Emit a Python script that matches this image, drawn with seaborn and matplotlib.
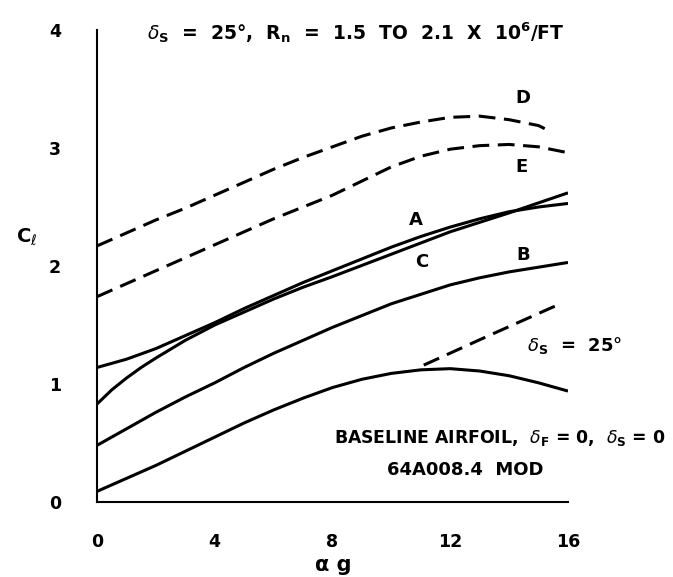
import matplotlib
matplotlib.use("Agg")
import matplotlib.pyplot as plt
import seaborn as sns
import pandas as pd

# ---- data ----
alpha_A = [0, 1, 2, 3, 4, 5, 6, 7, 8, 9, 10, 11, 12, 13, 14, 15, 16]
cl_A = [1.14, 1.21, 1.30, 1.41, 1.52, 1.64, 1.75, 1.86, 1.96, 2.06, 2.16, 2.25, 2.33, 2.40, 2.46, 2.50, 2.53]

alpha_C = [0, 0.5, 1, 1.5, 2, 3, 4, 5, 6, 7, 8, 10, 12, 14, 16]
cl_C = [0.83, 0.95, 1.05, 1.14, 1.22, 1.37, 1.50, 1.61, 1.72, 1.82, 1.91, 2.10, 2.29, 2.45, 2.62]

alpha_B = [0, 1, 2, 3, 4, 5, 6, 7, 8, 9, 10, 11, 12, 13, 14, 15, 16]
cl_B = [0.48, 0.62, 0.76, 0.89, 1.01, 1.14, 1.26, 1.37, 1.48, 1.58, 1.68, 1.76, 1.84, 1.90, 1.95, 1.99, 2.03]

alpha_base = [0, 1, 2, 3, 4, 5, 6, 7, 8, 9, 10, 11, 12, 13, 14, 15, 16]
cl_base = [0.09, 0.20, 0.31, 0.43, 0.55, 0.67, 0.78, 0.88, 0.97, 1.04, 1.09, 1.12, 1.13, 1.11, 1.07, 1.01, 0.94]

alpha_D = [0, 1, 2, 3, 4, 5, 6, 7, 8, 9, 10, 11, 12, 13, 14, 15, 15.4]
cl_D = [2.17, 2.28, 2.39, 2.49, 2.60, 2.71, 2.82, 2.92, 3.01, 3.10, 3.17, 3.22, 3.26, 3.27, 3.24, 3.19, 3.14]

alpha_E = [0, 1, 2, 3, 4, 5, 6, 7, 8, 9, 10, 11, 12, 13, 14, 15, 16]
cl_E = [1.74, 1.85, 1.96, 2.07, 2.18, 2.29, 2.40, 2.50, 2.60, 2.72, 2.84, 2.93, 2.99, 3.02, 3.03, 3.01, 2.96]

alpha_s25 = [11.1, 13.4, 15.65]
cl_s25 = [1.16, 1.42, 1.67]

x_ticks = [0, 4, 8, 12, 16]
y_ticks = [0, 1, 2, 3, 4]

sns.set_theme(style="white")
plt.rcParams["font.family"] = ["DejaVu Sans"]
plt.rcParams["text.color"] = "black"
plt.rcParams["axes.labelcolor"] = "black"
plt.rcParams["xtick.color"] = "black"
plt.rcParams["ytick.color"] = "black"
plt.rcParams["mathtext.fontset"] = "custom"
plt.rcParams["mathtext.rm"] = "DejaVu Sans:bold"
plt.rcParams["mathtext.bf"] = "DejaVu Sans:bold"
plt.rcParams["mathtext.it"] = "DejaVu Sans:italic"

fig = plt.figure(figsize=(6.73, 5.77), dpi=100)
ax = fig.add_axes([97 / 673, 75 / 577, 471 / 673, 472 / 577])

solid_lw = 2.2
dash_pat = (5.5, 2.8)

curves = [
    (alpha_A, cl_A, "-"),
    (alpha_C, cl_C, "-"),
    (alpha_B, cl_B, "-"),
    (alpha_base, cl_base, "-"),
    (alpha_D, cl_D, "--"),
    (alpha_E, cl_E, "--"),
    (alpha_s25, cl_s25, "--"),
]
for xs, ys, ls in curves:
    df = pd.DataFrame({"alpha": xs, "cl": ys})
    sns.lineplot(data=df, x="alpha", y="cl", ax=ax, color="black",
                 linewidth=solid_lw, sort=False, estimator=None)
    l = ax.lines[-1]
    l.set_solid_capstyle("butt")
    l.set_solid_joinstyle("round")
    if ls == "--":
        l.set_dashes(dash_pat)

ax.set_xlim(0, 16)
ax.set_ylim(0, 4)
ax.set_xticks(x_ticks)
ax.set_yticks(y_ticks)
ax.set_xticklabels([str(t) for t in x_ticks], fontsize=12.5, fontweight="bold", color="black")
ax.set_yticklabels([str(t) for t in y_ticks], fontsize=12.5, fontweight="bold", color="black")
ax.tick_params(axis="x", direction="in", length=4, width=1.2, pad=22, colors="black")
ax.tick_params(axis="y", direction="in", length=4, width=1.2, pad=26, colors="black")
for s in ["top", "right"]:
    ax.spines[s].set_visible(False)
for s in ["left", "bottom"]:
    ax.spines[s].set_color("black")
    ax.spines[s].set_linewidth(1.5)
ax.set_xlabel("")
ax.set_ylabel("")
ax.grid(False)

# axis labels
fig.text(27 / 673, 1 - 237 / 577, r"C$_{\ell}$", fontsize=14, fontweight="bold",
         ha="center", va="center", color="black")
fig.text(333 / 673, 1 - 565 / 577, "α g", fontsize=15, fontweight="bold",
         ha="center", va="center", color="black")

# title
ax.text(1.7, 3.98,
        r"$\delta_{\mathbf{S}}$  =  25°,  R$_{\mathbf{n}}$  =  1.5  TO  2.1  X  10$^{\mathbf{6}}$/FT",
        fontsize=13.5, fontweight="bold", ha="left", va="center", clip_on=False,
        color="black")

# curve labels
lbl = dict(fontsize=13, fontweight="bold", ha="center", va="center", color="black")
ax.text(10.83, 2.39, "A", **lbl)
ax.text(11.04, 2.03, "C", **lbl)
ax.text(14.47, 2.09, "B", **lbl)
ax.text(14.47, 3.42, "D", **lbl)
ax.text(14.43, 2.84, "E", **lbl)

ax.text(14.6, 1.33, r"$\delta_{\mathbf{S}}$  =  25°", fontsize=13, fontweight="bold",
        ha="left", va="center", clip_on=False, color="black")
ax.text(13.7, 0.54, r"BASELINE AIRFOIL,  $\delta_{\mathbf{F}}$ = 0,  $\delta_{\mathbf{S}}$ = 0",
        fontsize=12.4, fontweight="bold", ha="center", va="center", clip_on=False,
        color="black")
ax.text(12.5, 0.27, "64A008.4  MOD", fontsize=13, fontweight="bold",
        ha="center", va="center", color="black")

fig.savefig("out.png", dpi=100)
